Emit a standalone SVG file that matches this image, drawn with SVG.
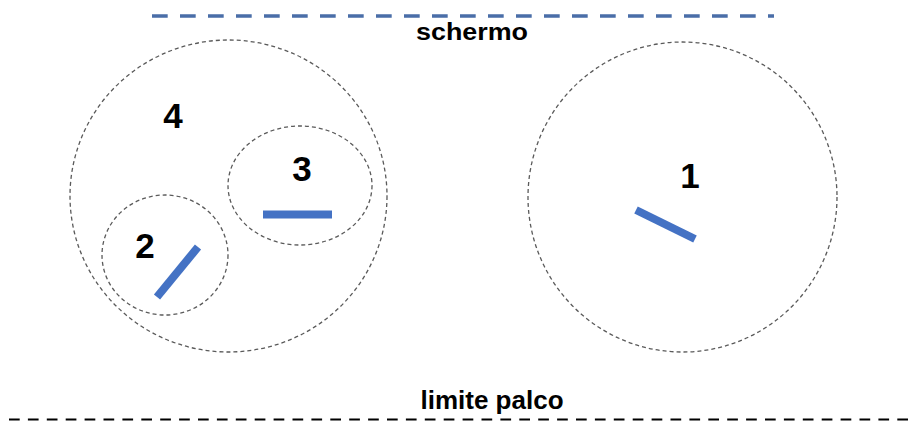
<svg xmlns="http://www.w3.org/2000/svg" width="908" height="421" viewBox="0 0 908 421">
<style>
.zone{fill:none;stroke:#5a5a5a;stroke-width:1.3;stroke-dasharray:4 3}
.bar{stroke:#4472C4;stroke-width:8;stroke-linecap:butt}
.num{font-family:"Liberation Sans",Arial,sans-serif;font-weight:bold;font-size:35px;fill:#000;text-anchor:middle}
.lbl{font-family:"Liberation Sans",Arial,sans-serif;font-weight:bold;fill:#000;text-anchor:middle}
</style>
<rect width="908" height="421" fill="#fff"/>
<g id="schermo">
<line x1="152" y1="16" x2="774" y2="16" stroke="#4a6ea8" stroke-width="3.3" stroke-dasharray="15.7 12.3"/>
<text class="lbl" x="472" y="40" font-size="23" textLength="112" lengthAdjust="spacingAndGlyphs">schermo</text>
</g>
<g id="zona4">
<ellipse class="zone" cx="228.5" cy="196" rx="158.5" ry="156"/>
<text class="num" x="173" y="128">4</text>
</g>
<g id="zona3">
<ellipse class="zone" cx="300" cy="185.5" rx="72" ry="59.5"/>
<text class="num" x="302" y="181">3</text>
<line class="bar" x1="263" y1="214.5" x2="332" y2="214.5"/>
</g>
<g id="zona2">
<ellipse class="zone" cx="165" cy="255" rx="63" ry="60"/>
<text class="num" x="145" y="258">2</text>
<line class="bar" x1="157" y1="297" x2="198" y2="247"/>
</g>
<g id="zona1">
<ellipse class="zone" cx="682.5" cy="197" rx="154.5" ry="155"/>
<text class="num" x="690" y="188">1</text>
<line class="bar" x1="636" y1="210" x2="695" y2="239"/>
</g>
<g id="limite">
<text class="lbl" x="492" y="409" font-size="26">limite palco</text>
<line x1="9" y1="419.5" x2="908" y2="419.5" stroke="#000" stroke-width="2.2" stroke-dasharray="10.7 8.2"/>
</g>
<g id="connectors"></g>
</svg>
